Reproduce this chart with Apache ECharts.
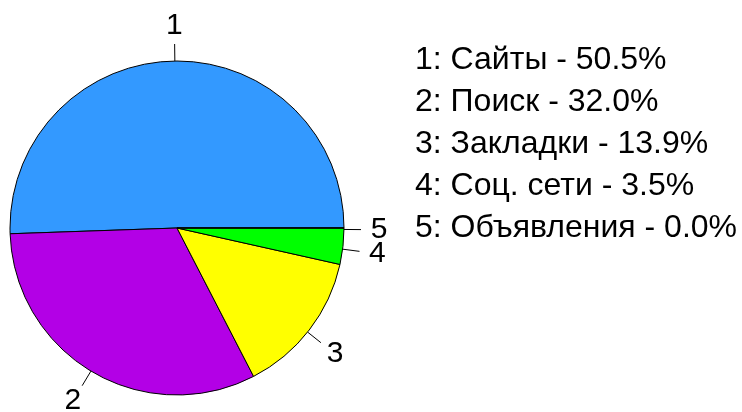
<!DOCTYPE html>
<html>
<head>
<meta charset="utf-8">
<script src="https://cdn.jsdelivr.net/npm/echarts@6/dist/echarts.min.js"></script>
<style>html,body{margin:0;padding:0;background:#fff;}#main{width:742px;height:412px;}</style>
</head>
<body>
<div id="main"></div>
<script>
var names = ['Сайты', 'Поиск', 'Закладки', 'Соц. сети', 'Объявления'];
var values = [50.5, 32.0, 13.9, 3.5, 0.0];
var colors = ['#3399ff', '#b300e6', '#ffff00', '#00ff00', '#ff0000'];

var chart = echarts.init(document.getElementById('main'));

var pieData = [];
var plainData = [];
var lines = [];
for (var i = 0; i < names.length; i++) {
	pieData.push({ name: String(i + 1), value: values[i], itemStyle: { color: colors[i] } });
	plainData.push({ name: String(i + 1), value: values[i] });
	lines.push((i + 1) + ': ' + names[i] + ' - ' + values[i].toFixed(1) + '%');
}

var C = [177, 228];
var R = 167;

chart.setOption({
	animation: false,
	series: [{
		// сектора
		type: 'pie',
		center: C,
		radius: R,
		startAngle: 0,
		clockwise: false,
		silent: true,
		data: pieData,
		itemStyle: { borderColor: '#000', borderWidth: 1 },
		label: { show: false },
		labelLine: { show: false }
	}, {
		// засечки
		type: 'pie',
		center: C,
		radius: R,
		startAngle: 0,
		clockwise: false,
		minAngle: 1,
		silent: true,
		avoidLabelOverlap: false,
		labelLayout: { hideOverlap: false },
		data: plainData,
		itemStyle: { color: 'transparent', borderWidth: 0 },
		label: { show: true, formatter: '{b}', color: 'transparent', fontSize: 1 },
		labelLine: { show: true, length: 17, length2: 0, lineStyle: { color: '#000', width: 1 } }
	}, {
		// подписи
		type: 'pie',
		center: C,
		radius: [R, 231],
		startAngle: 0,
		clockwise: false,
		minAngle: 1,
		silent: true,
		avoidLabelOverlap: false,
		labelLayout: { hideOverlap: false },
		data: plainData,
		itemStyle: { color: 'transparent', borderWidth: 0 },
		label: {
			show: true,
			position: 'inside',
			formatter: '{b}',
			color: '#000',
			fontSize: 30,
			fontFamily: 'Liberation Sans'
		},
		labelLine: { show: false }
	}],
	graphic: [{
		type: 'text',
		left: 415,
		top: 39,
		style: {
			text: lines.join('\n'),
			font: '32px "Liberation Sans"',
			lineHeight: 42,
			fill: '#000'
		}
	}]
});
</script>
</body>
</html>
